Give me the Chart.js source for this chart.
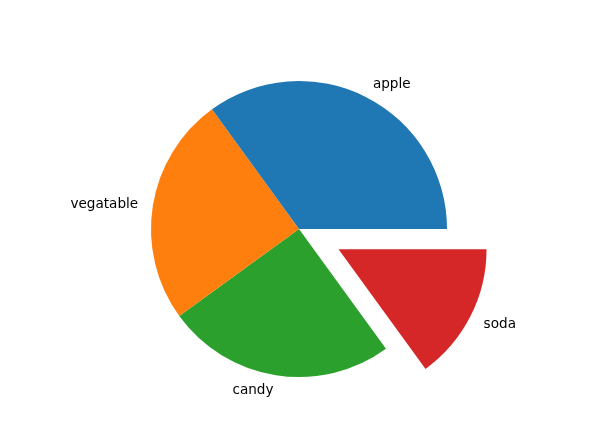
<!DOCTYPE html>
<html>
<head>
<meta charset="utf-8">
<script src="https://cdn.jsdelivr.net/npm/chart.js@4"></script>
<style>
  html, body { margin: 0; padding: 0; background: #fff; }
  #wrap { width: 595px; height: 448px; }
</style>
</head>
<body>
<div id="wrap"><canvas id="grafico" width="595" height="448"></canvas></div>
<script>
// data (matplotlib draws counterclockwise from 3 o'clock; Chart.js clockwise, so order is reversed)
const categorias = ['apple', 'vegatable', 'candy', 'soda'];
const valores = [35, 25, 25, 15];
const colores = ['#1f77b4', '#ff7f0e', '#2ca02c', '#d62728'];
const explode = [0, 0, 0, 0.3];

const radio = 148;

const orden = [3, 2, 1, 0];
const etiquetas = orden.map(i => categorias[i]);
const datos = orden.map(i => valores[i]);
const fondos = orden.map(i => colores[i]);
const exp = orden.map(i => explode[i]);

// pull exploded slices out along their mid angle (like matplotlib's explode)
const explodePlugin = {
  id: 'explode',
  afterDatasetUpdate(chart) {
    const meta = chart.getDatasetMeta(0);
    meta.data.forEach((arc, i) => {
      if (!exp[i] || arc._explotado) return;
      const dibujar = arc.draw.bind(arc);
      arc.draw = function (ctx) {
        const mid = (this.startAngle + this.endAngle) / 2;
        const d = exp[i] * this.outerRadius;
        ctx.save();
        ctx.translate(Math.cos(mid) * d, Math.sin(mid) * d);
        dibujar(ctx);
        ctx.restore();
      };
      arc._explotado = true;
    });
  }
};

const etiquetasPlugin = {
  id: 'etiquetas',
  afterDatasetsDraw(chart) {
    const ctx = chart.ctx;
    const meta = chart.getDatasetMeta(0);
    ctx.save();
    ctx.font = '13.6px "DejaVu Sans"';
    ctx.fillStyle = '#000';
    ctx.textBaseline = 'middle';
    meta.data.forEach((arc, i) => {
      const mid = (arc.startAngle + arc.endAngle) / 2;
      const d = 1.1 * arc.outerRadius + exp[i] * arc.outerRadius;
      const x = arc.x + Math.cos(mid) * d;
      const y = arc.y + Math.sin(mid) * d + 1;
      ctx.textAlign = Math.cos(mid) >= 0 ? 'left' : 'right';
      ctx.fillText(etiquetas[i], x, y);
    });
    ctx.restore();
  }
};

new Chart(document.getElementById('grafico').getContext('2d'), {
  type: 'pie',
  data: {
    labels: etiquetas,
    datasets: [{
      data: datos,
      backgroundColor: fondos,
      borderWidth: 0,
      hoverOffset: 0
    }]
  },
  options: {
    responsive: false,
    animation: false,
    events: [],
    rotation: 90,
    radius: radio,
    layout: { padding: { left: 3, top: 10, right: 0, bottom: 0 } },
    plugins: {
      legend: { display: false },
      tooltip: { enabled: false }
    }
  },
  plugins: [explodePlugin, etiquetasPlugin]
});
</script>
</body>
</html>
